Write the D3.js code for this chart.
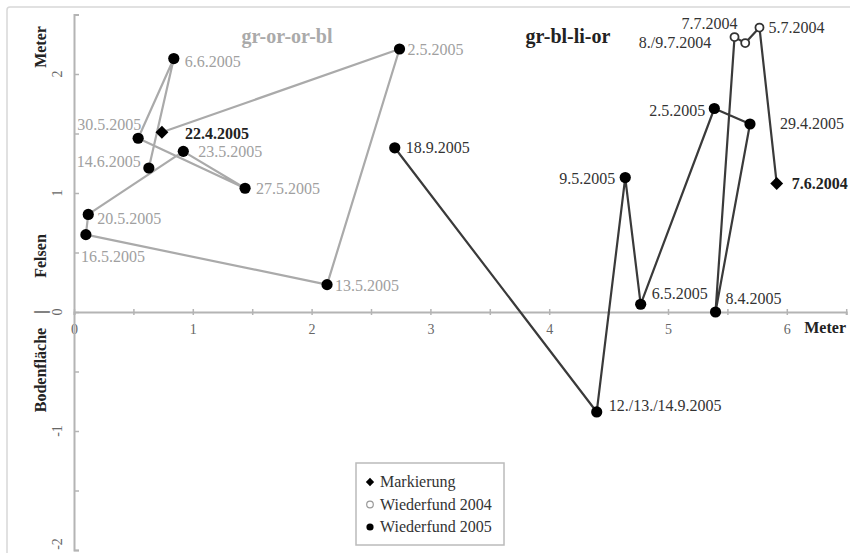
<!DOCTYPE html>
<html><head><meta charset="utf-8">
<script src="https://cdn.jsdelivr.net/npm/d3@7"></script>
<style>body{margin:0;background:#fff}svg{display:block}</style>
</head><body><svg id="c" width="850" height="553"></svg>
<script>
// ---- data ----
const seriesNames = ["gr-or-or-bl", "gr-bl-li-or"];
const grayDates = ["22.4.2005","2.5.2005","13.5.2005","16.5.2005","20.5.2005","23.5.2005","27.5.2005","30.5.2005","6.6.2005","14.6.2005"];
const grayX = [0.74, 2.74, 2.13, 0.10, 0.12, 0.92, 1.44, 0.54, 0.84, 0.63];
const grayY = [1.51, 2.21, 0.23, 0.65, 0.82, 1.35, 1.04, 1.46, 2.13, 1.21];
const grayType = ["mark","w2005","w2005","w2005","w2005","w2005","w2005","w2005","w2005","w2005"];
const blackDates = ["7.6.2004","5.7.2004","8./9.7.2004","7.7.2004","8.4.2005","29.4.2005","2.5.2005","6.5.2005","9.5.2005","12./13./14.9.2005","18.9.2005"];
const blackX = [5.915, 5.77, 5.65, 5.56, 5.40, 5.69, 5.39, 4.77, 4.64, 4.40, 2.70];
const blackY = [1.08, 2.39, 2.26, 2.31, 0.0, 1.58, 1.71, 0.065, 1.13, -0.84, 1.38];
const blackType = ["mark","w2004","w2004","w2004","w2005","w2005","w2005","w2005","w2005","w2005","w2005"];
const xTicks = [0,1,2,3,4,5,6];
const yTicks = [-2,-1,0,1,2];
const legendLabels = ["Markierung","Wiederfund 2004","Wiederfund 2005"];
const legendTypes = ["mark","w2004","w2005"];

// ---- label placement (dx, dy, anchor) ----
const grayLabelPos = [[23,7,"start"],[8,6,"start"],[8,6,"start"],[-5,27,"start"],[9,10,"start"],[15,6,"start"],[11,6,"start"],[3,-8,"end"],[11,8,"start"],[-8,-1,"end"]];
const blackLabelPos = [[15,6,"start"],[9,5,"start"],[-34,5,"end"],[3,-8,"end"],[10,-8,"start"],[30,5,"start"],[-9,7,"end"],[11,-5,"start"],[-10,6,"end"],[12,-1,"start"],[11,5,"start"]];

const FONT = "'Liberation Serif', 'Times New Roman', 'DejaVu Serif', serif";
const svg = d3.select("#c").attr("font-family", FONT);
const x = d3.scaleLinear().domain([0,6.5]).range([74,846.2]);
const y = d3.scaleLinear().domain([-2,2.5]).range([550,14.5]);

// frame
svg.append("rect").attr("x",7).attr("y",7).attr("width",860).attr("height",570)
  .attr("rx",3).attr("fill","none").attr("stroke","#d8d8d8").attr("stroke-width",1.5);

const axisColor = "#b4b4b4";
// x axis
const xAxis = svg.append("g").attr("transform",`translate(0,${y(0)})`)
  .call(d3.axisBottom(x).tickValues(d3.range(0,6.51,0.5)).tickSize(3).tickFormat(d=>xTicks.includes(d)?d:""));
xAxis.attr("font-family", FONT);
xAxis.select(".domain").attr("stroke",axisColor).attr("stroke-width",2);
xAxis.selectAll(".tick line").attr("stroke",axisColor).attr("stroke-width",1.5).attr("y1",-3).attr("y2",3);
xAxis.selectAll(".tick text").attr("y",12).attr("font-size",14).attr("fill","#666").attr("font-family",FONT);
// y axis
const yAxis = svg.append("g").attr("transform",`translate(${x(0)},0)`)
  .call(d3.axisRight(y).tickValues(d3.range(-2,2.51,0.5)).tickSize(5).tickFormat(""));
yAxis.select(".domain").attr("stroke",axisColor).attr("stroke-width",2);
yAxis.selectAll(".tick line").attr("stroke",axisColor).attr("stroke-width",1.5);
svg.selectAll(".ytl").data(yTicks).enter().append("text")
  .attr("transform",d=>`translate(62,${Math.min(y(d),544)}) rotate(-90)`).attr("text-anchor","middle")
  .attr("font-family",FONT).attr("font-size",14).attr("fill","#666").text(d=>d);

// axis titles
svg.append("text").attr("x",846).attr("y",333).attr("text-anchor","end").attr("font-family",FONT).attr("font-size",16).attr("font-weight","bold").attr("fill","#222").text("Meter");
const yTitles = [["Meter",47],["Felsen",256],["|",312],["Bodenfläche",370]];
yTitles.forEach(t=>svg.append("text").attr("transform",`translate(46,${t[1]}) rotate(-90)`).attr("text-anchor","middle")
  .attr("font-family",FONT).attr("font-size",16).attr("font-weight","bold").attr("fill","#222").text(t[0]));

// series titles
svg.append("text").attr("x",287).attr("y",43).attr("text-anchor","middle").attr("font-family",FONT).attr("font-size",20).attr("font-weight","bold").attr("fill","#aaa").text(seriesNames[0]);
svg.append("text").attr("x",568).attr("y",43).attr("text-anchor","middle").attr("font-family",FONT).attr("font-size",20).attr("font-weight","bold").attr("fill","#222").text(seriesNames[1]);

function drawMarker(g, type, cx, cy, s){
  if(type==="mark"){
    const h = s*1.15;
    g.append("path").attr("d",`M${cx},${cy-h}L${cx+h},${cy}L${cx},${cy+h}L${cx-h},${cy}Z`).attr("fill","#000");
  } else if(type==="w2004"){
    g.append("circle").attr("cx",cx).attr("cy",cy).attr("r",s*0.72).attr("fill","#fff").attr("stroke","#333").attr("stroke-width",1.8);
  } else {
    g.append("circle").attr("cx",cx).attr("cy",cy).attr("r",s).attr("fill","#000");
  }
}

function drawSeries(xs, ys, types, dates, pos, lineColor, labelColor){
  const pts = xs.map((v,i)=>[x(v), y(ys[i])]);
  svg.append("path").attr("d",d3.line()(pts)).attr("fill","none").attr("stroke",lineColor).attr("stroke-width",2.2).attr("stroke-linejoin","round");
  const g = svg.append("g");
  pts.forEach((p,i)=>drawMarker(g, types[i], p[0], p[1], 5.6));
  pts.forEach((p,i)=>{
    svg.append("text").attr("x",p[0]+pos[i][0]).attr("y",p[1]+pos[i][1]).attr("text-anchor",pos[i][2])
      .attr("font-family",FONT).attr("font-size",16).attr("fill", types[i]==="mark"?"#222":labelColor)
      .attr("font-weight", types[i]==="mark"?"bold":"normal").text(dates[i]);
  });
}
drawSeries(grayX, grayY, grayType, grayDates, grayLabelPos, "#aaa", "#a0a0a0");
drawSeries(blackX, blackY, blackType, blackDates, blackLabelPos, "#3a3a3a", "#333");

// legend
const lg = svg.append("g");
lg.append("rect").attr("x",356).attr("y",463).attr("width",148).attr("height",82).attr("fill","#fff").attr("stroke","#bbb").attr("stroke-width",1.5);
legendLabels.forEach((l,i)=>{
  const cy = 482 + i*22.5;
  if(legendTypes[i]==="w2004"){
    lg.append("circle").attr("cx",370).attr("cy",cy).attr("r",3.3).attr("fill","#fff").attr("stroke","#999").attr("stroke-width",1.2);
  } else drawMarker(lg, legendTypes[i], 370, cy, 3.6);
  lg.append("text").attr("x",380).attr("y",cy+5).attr("font-family",FONT).attr("font-size",16).attr("fill","#333").text(l);
});
</script></body></html>
